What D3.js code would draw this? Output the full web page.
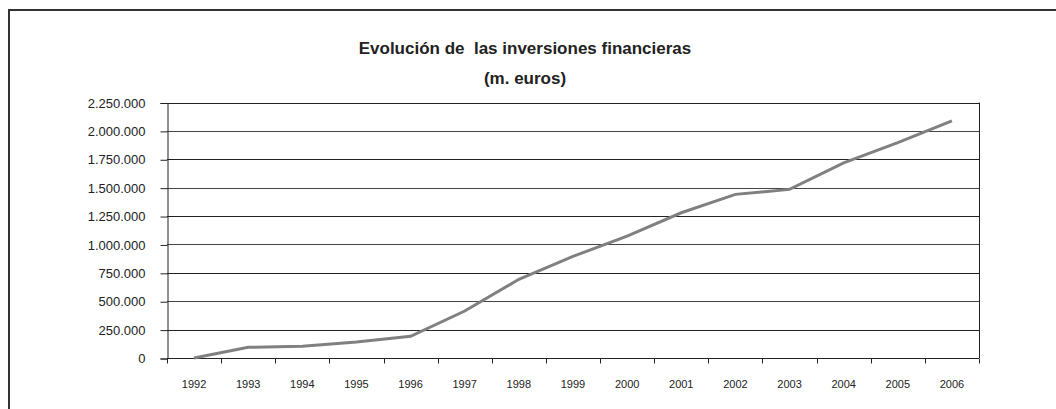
<!DOCTYPE html>
<html>
<head>
<meta charset="utf-8">
<script src="https://cdn.jsdelivr.net/npm/d3@7"></script>
<style>
  body { margin: 0; background: #fff; }
  svg { display: block; font-family: Arial, "Liberation Sans", sans-serif; }
</style>
</head>
<body>
<div id="chart"></div>
<script>
// years and values (m. euros)
var years = ["1992","1993","1994","1995","1996","1997","1998","1999","2000","2001","2002","2003","2004","2005","2006"];
var values = [0, 94000, 103000, 141000, 191000, 414000, 693000, 895000, 1074000, 1279000, 1441000, 1485000, 1719000, 1897000, 2088000];
var yTicks = [0, 250000, 500000, 750000, 1000000, 1250000, 1500000, 1750000, 2000000, 2250000];
var titleLines = ["Evolución de\u00a0 las inversiones financieras", "(m. euros)"];

var w = 1056, h = 409;
var margin = {top: 102.5, right: 77, bottom: 51, left: 167};

var svg = d3.select("#chart")
      .append("svg")
      .attr("width", w)
      .attr("height", h);

// outer frame
svg.append("path")
   .attr("d", "M9," + h + "V10H" + w)
   .attr("fill", "none")
   .attr("stroke", "#333")
   .attr("stroke-width", 2);

// title
svg.selectAll("text.title")
   .data(titleLines)
   .enter()
   .append("text")
   .attr("class", "title")
   .attr("x", 525)
   .attr("y", function(d, i) { return 54 + i * 30; })
   .attr("text-anchor", "middle")
   .attr("font-size", "17px")
   .attr("font-weight", "bold")
   .attr("fill", "#222")
   .text(function(d) { return d; });

var x = d3.scaleBand()
      .domain(years)
      .range([margin.left, w - margin.right]);

var y = d3.scaleLinear()
      .domain([0, 2250000])
      .range([h - margin.bottom, margin.top]);

var fmt = function(d) {
  return d3.format(",")(d).replace(/,/g, ".");
};

// grid lines
svg.append("g")
   .selectAll("line")
   .data(yTicks.slice(1))
   .enter()
   .append("line")
   .attr("x1", margin.left)
   .attr("x2", w - margin.right)
   .attr("y1", function(d) { return Math.round(y(d)) + 0.5; })
   .attr("y2", function(d) { return Math.round(y(d)) + 0.5; })
   .attr("stroke", function(d, i) { return i % 2 ? "#444" : "#222"; })
   .attr("stroke-width", 1);

// right border of plot
svg.append("line")
   .attr("x1", w - margin.right + 0.5)
   .attr("x2", w - margin.right + 0.5)
   .attr("y1", y(2250000))
   .attr("y2", y(0))
   .attr("stroke", "#222");

// y axis
var yAxis = svg.append("g")
      .attr("transform", "translate(" + (margin.left + 0.5) + ",0.5)")
      .call(d3.axisLeft(y).tickValues(yTicks).tickFormat(fmt).tickSize(7).tickPadding(15));
yAxis.select(".domain").attr("stroke", "#222");
yAxis.selectAll(".tick line").attr("stroke", "#222");
yAxis.selectAll("text")
     .attr("font-family", "Arial, 'Liberation Sans', sans-serif")
     .attr("font-size", "13px")
     .attr("fill", "#222");

// x axis (ticks on category boundaries)
var xAxis = svg.append("g")
      .attr("transform", "translate(0," + (Math.round(y(0)) + 0.5) + ")");
xAxis.append("line")
     .attr("x1", margin.left)
     .attr("x2", w - margin.right)
     .attr("stroke", "#222");
var bounds = years.map(function(d) { return x(d); }).concat([x(years[years.length - 1]) + x.bandwidth()]);
xAxis.selectAll("line.tk")
     .data(bounds)
     .enter()
     .append("line")
     .attr("class", "tk")
     .attr("x1", function(d) { return Math.round(d) + 0.5; })
     .attr("x2", function(d) { return Math.round(d) + 0.5; })
     .attr("y1", 0)
     .attr("y2", 5)
     .attr("stroke", "#222");
xAxis.selectAll("text")
     .data(years)
     .enter()
     .append("text")
     .attr("x", function(d) { return x(d) + x.bandwidth() / 2; })
     .attr("y", 29)
     .attr("text-anchor", "middle")
     .attr("font-size", "11px")
     .attr("fill", "#222")
     .text(function(d) { return d; });

// line
var line = d3.line()
      .x(function(d, i) { return x(years[i]) + x.bandwidth() / 2; })
      .y(function(d) { return y(d); });

svg.append("path")
   .datum(values)
   .attr("d", line)
   .attr("fill", "none")
   .attr("stroke", "#808080")
   .attr("stroke-width", 3);
</script>
</body>
</html>
